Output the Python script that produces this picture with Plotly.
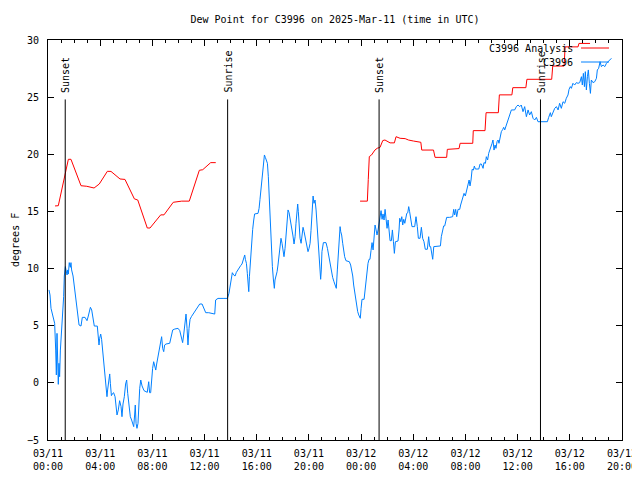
import pandas as pd
import plotly.graph_objects as go

BASE = pd.Timestamp("2025-03-11 00:00")

# Observed dew point (C3996), hours after 03/11 00:00 UTC, degrees F
obs_hours = [0.077,0.153,0.23,0.33,0.43,0.51,0.59,0.64,0.69,0.74,0.79,0.84,0.89,0.95,1.05,1.12,1.20,1.25,1.33,1.38,1.46,1.51,1.56,1.63,1.71,1.76,1.81,1.92,1.99,2.07,2.15,2.22,2.30,2.38,2.53,2.63,2.84,2.99,3.09,3.25,3.35,3.42,3.55,3.78,3.86,3.91,3.96,4.04,4.11,4.19,4.27,4.37,4.45,4.52,4.57,4.65,4.73,4.78,4.86,4.96,5.03,5.14,5.21,5.29,5.39,5.49,5.60,5.67,5.75,5.85,5.95,6.03,6.11,6.21,6.31,6.41,6.49,6.57,6.64,6.69,6.75,6.82,6.90,
    6.95,7.03,7.11,7.21,7.36,7.61,7.72,7.79,7.87,7.95,8.02,8.10,8.18,8.26,8.33,8.43,8.53,8.64,8.71,8.79,8.87,8.94,9.05,9.33,9.46,9.56,9.72,9.97,10.10,10.22,10.32,10.40,10.48,10.58,10.66,10.73,10.81,10.89,10.99,11.11,11.24,11.37,11.50,11.63,11.81,11.93,12.09,12.32,12.57,12.78,12.85,13.03,13.42,13.75,
    13.87,13.97,14.05,14.13,14.23,14.34,14.44,14.54,14.67,14.77,14.87,14.95,15.03,15.08,15.13,15.21,15.28,15.33,15.39,15.44,15.49,15.54,15.62,15.69,15.77,15.84,16.10,16.18,16.25,16.33,16.41,16.46,16.51,16.59,16.66,16.74,16.82,16.89,16.97,17.05,17.12,17.20,17.28,17.35,17.40,17.48,17.56,17.63,17.71,17.79,17.86,17.94,18.02,18.09,18.17,18.25,18.32,18.40,18.48,18.55,18.63,18.71,18.78,18.86,18.94,19.01,19.09,19.14,19.19,19.24,19.32,19.40,19.47,19.55,19.63,19.70,19.78,19.86,19.93,20.01,20.09,20.16,20.24,20.32,20.39,20.47,20.55,20.62,
    20.70,20.77,20.85,20.90,20.95,21.00,21.11,21.31,21.42,21.52,21.62,21.72,21.82,21.92,22.03,22.10,22.18,22.26,22.33,22.39,22.44,22.51,22.59,22.67,22.74,22.84,23.10,23.20,23.28,23.36,23.43,23.51,23.59,23.66,23.74,23.82,23.89,23.94,24.00,24.07,24.23,24.30,24.38,24.45,24.53,24.61,24.68,24.76,24.84,24.92,24.99,25.07,25.15,25.22,25.30,25.38,25.45,25.53,25.61,25.68,25.76,25.84,25.91,25.99,26.07,26.14,26.22,26.32,26.40,26.48,26.55,26.63,26.83,26.91,26.96,27.04,27.12,27.19,27.27,27.35,27.42,27.50,27.58,
    27.65,27.72,27.80,27.90,28.11,28.21,28.31,28.39,28.52,28.62,28.72,28.82,28.92,29.08,29.18,29.26,29.33,29.44,29.49,29.57,29.85,30.08,30.15,30.26,30.33,30.41,30.49,30.56,30.79,31.02,31.10,31.17,31.25,31.33,31.43,31.56,31.63,31.74,31.81,31.89,31.99,32.09,32.20,32.28,32.35,32.43,32.51,32.61,32.68,32.76,33.02,33.12,33.22,33.35,33.42,33.53,33.60,33.70,33.78,33.88,33.96,34.04,34.11,34.19,34.27,34.34,34.42,34.50,34.57,34.65,34.75,34.86,34.93,35.01,
    35.14,35.26,35.39,35.52,35.77,35.90,36.03,36.16,36.28,36.41,36.54,36.67,36.80,36.92,37.05,37.18,37.31,37.44,37.56,37.77,38.28,38.38,38.51,38.58,38.71,38.84,38.97,39.10,39.22,39.35,39.48,39.61,39.73,39.86,39.94,40.04,40.12,40.24,40.37,40.50,40.63,40.76,40.89,40.96,41.04,41.12,41.19,41.27,41.35,41.42,41.50,41.58,41.65,41.78,41.91,42.04,42.11,42.21,42.32,42.42,42.55,42.68,42.81,42.93,43.06,43.19]
obs_dewpt = [8.13,7.69,6.52,6.08,5.56,5.21,2.87,0.69,4.33,2.0,-0.13,1.71,0.54,2.87,4.63,5.85,7.54,9.35,10.17,9.88,9.44,9.88,9.52,10.52,10.11,10.52,9.88,9.35,8.71,7.83,6.96,6.23,5.5,5.06,4.97,5.73,5.73,5.44,5.85,6.61,6.38,5.79,4.97,4.97,4.10,3.31,3.9,4.27,3.81,2.87,1.56,0.54,-0.33,-1.21,-0.62,0.25,0.78,-0.04,-1.12,-0.92,-0.86,-1.21,-1.94,-2.81,-2.37,-1.56,-2.08,-2.96,-1.85,-1.21,-0.10,0.25,-0.92,-1.85,-2.96,-3.25,-3.54,-3.83,-2.81,-1.94,-3.54,-3.98,-3.54,
    -1.79,-0.48,0.25,-0.27,-0.68,-0.83,0.10,-0.86,-0.86,0.48,1.27,1.85,1.56,1.12,1.65,2.35,3.11,3.60,4.04,3.02,2.73,3.31,3.40,3.46,4.04,4.63,4.71,4.77,4.57,3.90,3.52,4.19,5.35,6.02,4.77,3.31,4.77,5.56,5.79,6.0,6.23,6.38,6.67,6.9,6.9,6.52,6.14,6.14,6.08,6.02,7.25,7.39,7.39,7.39,
    7.83,8.71,9.29,9.64,9.44,9.35,9.67,9.88,10.11,10.26,10.4,10.75,10.98,11.19,10.81,10.46,9.58,8.71,7.98,9.29,10.17,11.48,12.56,13.43,14.25,14.78,14.83,15.27,16.06,16.93,17.9,18.68,19.5,19.94,19.73,19.5,19.21,18.04,15.85,13.67,11.92,10.17,9.0,8.27,9.0,9.29,9.73,10.31,11.19,11.77,12.65,12.21,11.63,11.04,11.77,13.08,14.54,15.13,14.89,14.48,14.02,13.43,12.85,12.15,12.79,13.96,14.98,15.65,14.98,13.67,12.65,12.21,12.94,13.61,13.23,12.79,12.21,11.77,11.48,11.77,12.21,13.32,14.69,16.35,15.71,16.0,15.13,13.96,
    12.94,11.48,9.88,9.06,9.88,11.48,12.27,12.27,11.77,11.04,10.46,9.88,9.23,8.85,8.48,8.27,9.88,11.63,12.79,13.67,13.23,12.94,12.21,11.48,11.04,10.69,10.6,10.31,9.88,9.35,8.56,7.83,7.1,6.61,6.23,5.94,5.79,5.65,6.52,7.31,7.31,8.12,9.15,9.88,10.46,10.81,10.81,11.57,12.27,11.63,13.08,13.81,13.38,12.94,13.38,14.02,14.54,15.07,14.31,14.78,14.25,15.18,14.4,13.52,14.25,13.38,12.44,12.44,13.38,12.35,11.33,12.35,12.41,13.38,14.4,14.1,14.54,13.81,14.31,13.96,14.48,14.83,14.89,
    15.42,14.98,14.4,13.67,13.67,14.54,13.67,12.65,12.65,13.61,12.65,12.35,11.69,11.69,12.79,11.92,11.92,11.33,10.81,11.92,11.98,11.98,12.79,13.23,13.73,13.73,14.25,14.48,14.48,14.54,15.18,14.69,15.18,14.54,15.18,15.18,15.56,16.06,16.29,16.58,16.35,16.87,17.31,17.75,17.23,17.75,18.68,18.62,18.97,18.71,18.71,19.15,19.15,18.77,19.27,19.21,19.79,19.5,20.08,20.37,20.67,20.96,21.25,20.37,20.81,20.52,21.1,21.25,20.96,21.54,21.98,22.18,22.36,22.13,
    22.56,23.15,23.44,23.88,23.88,24.17,24.31,24.17,24.31,23.73,24.17,23.29,23.88,23.44,23.73,23.15,23.0,23.23,22.85,22.85,22.85,23.23,23.64,23.29,23.73,24.02,24.17,23.88,24.46,24.02,24.6,24.46,24.9,25.19,25.68,25.92,25.77,26.21,26.06,26.27,26.21,26.27,26.79,26.06,27.08,25.92,27.23,25.63,26.79,27.38,26.21,25.33,26.5,26.27,26.35,26.65,27.38,27.52,28.1,27.67,27.81,27.67,27.96,28.1,28.25,28.4]

# Analysis dew point (C3996 Analysis); None marks the data gap
ana_hours = [0.54,0.79,1.56,1.76,2.53,2.97,3.53,3.93,4.55,4.83,5.52,5.90,6.62,6.88,7.61,7.82,8.64,8.89,9.60,10.25,10.83,11.60,11.86,12.47,12.86,
    18.0,
    23.92,24.48,24.55,24.63,24.80,24.93,25.06,25.24,25.45,25.66,25.83,26.22,26.55,26.68,26.99,27.38,27.63,28.01,28.27,28.58,28.65,29.55,29.67,30.56,30.61,31.51,31.59,32.56,32.60,33.50,33.58,34.52,34.60,35.56,35.63,36.63,36.71,38.61,38.69,39.56,39.64,40.63,40.70,41.55]
ana_dewpt = [15.48,15.5,19.56,19.56,17.25,17.2,17.05,17.4,18.51,18.5,17.84,17.8,16.1,16.0,13.55,13.55,14.7,14.7,15.8,15.9,15.9,18.6,18.65,19.27,19.27,
    None,
    15.9,15.9,17.8,19.8,19.94,20.14,20.37,20.53,20.6,21.2,21.25,21.0,21.0,21.54,21.4,21.37,21.25,21.16,21.1,21.05,20.37,20.37,19.73,19.73,20.43,20.5,20.96,20.96,22.07,22.07,23.64,23.64,25.2,25.2,25.83,25.83,26.56,26.56,27.72,27.72,29.4,29.4,29.7,29.7]

# Sun events (hours after 03/11 00:00 UTC)
sun_labels = ["Sunset", "Sunrise", "Sunset", "Sunrise"]
sun_hours = [1.32, 13.77, 25.38, 37.75]

series_names = ["C3996 Analysis", "C3996"]
series_colors = ["#ff0000", "#0080ff"]

FONT = "DejaVu Sans Mono"
Y_MIN, Y_MAX = -5, 30
SUN_LINE_TOP = 24.8
SUN_LABEL_BOTTOM = 25.2

# the page body adds an 8px offset; the figure fills the rest of the 640x480 window
FIG_W, FIG_H = 632, 472


def to_time(hours):
    return [BASE + pd.Timedelta(hours=h) for h in hours]


fig = go.Figure()
fig.add_trace(go.Scatter(x=to_time(ana_hours), y=ana_dewpt, mode="lines",
                         line=dict(color=series_colors[0], width=1), name=series_names[0],
                         showlegend=False, connectgaps=False))
fig.add_trace(go.Scatter(x=to_time(obs_hours), y=obs_dewpt, mode="lines",
                         line=dict(color=series_colors[1], width=1), name=series_names[1],
                         showlegend=False))

for lab, h in zip(sun_labels, sun_hours):
    t = BASE + pd.Timedelta(hours=h)
    fig.add_trace(go.Scatter(x=[t, t], y=[Y_MIN, SUN_LINE_TOP], mode="lines",
                             line=dict(color="black", width=1), showlegend=False,
                             hoverinfo="skip"))
    fig.add_annotation(x=t, y=SUN_LABEL_BOTTOM, text=lab, textangle=-90, showarrow=False,
                       xanchor="center", yanchor="bottom", xshift=1,
                       font=dict(family=FONT, size=10, color="black"))

# manual legend (text left of line sample, gnuplot style)
leg_y = [0.98, 0.945]
for name, col, yy in zip(series_names, series_colors, leg_y):
    fig.add_annotation(xref="paper", yref="paper", x=0.918, y=yy, text=name,
                       showarrow=False, xanchor="right", yanchor="middle",
                       font=dict(family=FONT, size=10, color="black"))
    fig.add_shape(type="line", xref="paper", yref="paper", x0=0.9286, x1=0.9774,
                  y0=yy, y1=yy, line=dict(color=col, width=1))

fig.add_annotation(xref="paper", yref="paper", x=-0.0575, y=0.5, text="degrees F",
                   textangle=-90, showarrow=False, xanchor="center", yanchor="middle",
                   font=dict(family=FONT, size=10, color="black"))

fig.update_layout(
    width=FIG_W, height=FIG_H,
    margin=dict(l=40, r=18, t=32, b=40, autoexpand=False),
    paper_bgcolor="white", plot_bgcolor="white",
    font=dict(family=FONT, size=10, color="black"),
    title=dict(text="Dew Point for C3996 on 2025-Mar-11 (time in UTC)", x=0.5, xref="paper",
               y=1 - 11 / FIG_H, yanchor="middle", font=dict(family=FONT, size=10),
               automargin=False),
    showlegend=False,
)
fig.update_xaxes(
    type="date", automargin=False,
    range=[BASE, BASE + pd.Timedelta(hours=44)],
    tick0=BASE, dtick=4 * 3600000, tickformat="%m/%d<br>%H:%M",
    ticks="inside", ticklen=6, tickcolor="black", mirror="ticks",
    showline=True, linecolor="black", linewidth=1, showgrid=False, zeroline=False,
    minor=dict(dtick=3600000, tick0=BASE, ticks="inside", ticklen=3, tickcolor="black", showgrid=False),
    tickfont=dict(family=FONT, size=10), ticklabelstandoff=4,
)
fig.update_yaxes(
    range=[Y_MIN, Y_MAX], dtick=5, tick0=0, automargin=False,
    ticks="inside", ticklen=6, tickcolor="black", mirror="ticks",
    showline=True, linecolor="black", linewidth=1, showgrid=False, zeroline=False,
    tickfont=dict(family=FONT, size=10), ticklabelstandoff=6,
)

fig.write_html("out.html")
